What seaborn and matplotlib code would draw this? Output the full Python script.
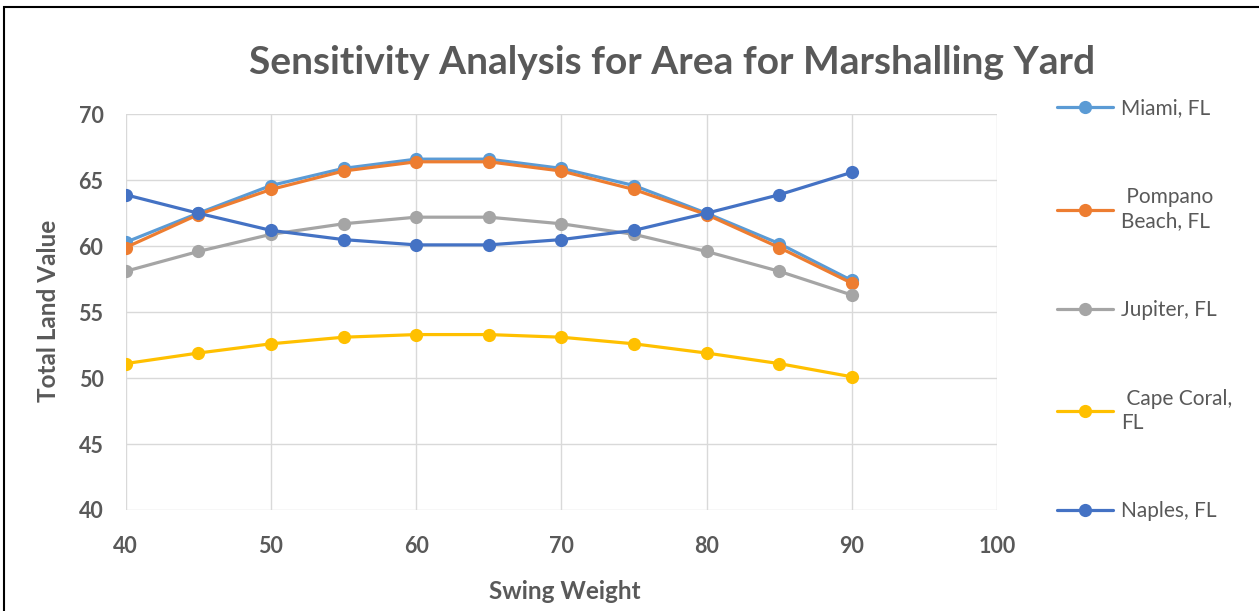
import numpy as np
import pandas as pd
import matplotlib.pyplot as plt
from matplotlib.patches import Rectangle
import seaborn as sns

sns.set_style("white")
plt.rcParams['font.family'] = ['Lato', 'DejaVu Sans']

# data
swing = [40, 45, 50, 55, 60, 65, 70, 75, 80, 85, 90]
miami = [60.3, 62.5, 64.6, 65.9, 66.6, 66.6, 65.9, 64.6, 62.5, 60.2, 57.4]
pompano = [59.9, 62.4, 64.3, 65.7, 66.4, 66.4, 65.7, 64.3, 62.4, 59.9, 57.2]
jupiter = [58.1, 59.6, 60.9, 61.7, 62.2, 62.2, 61.7, 60.9, 59.6, 58.1, 56.3]
cape_coral = [51.1, 51.9, 52.6, 53.1, 53.3, 53.3, 53.1, 52.6, 51.9, 51.1, 50.1]
naples = [63.9, 62.5, 61.2, 60.5, 60.1, 60.1, 60.5, 61.2, 62.5, 63.9, 65.6]

names = ['Miami, FL', ' Pompano\nBeach, FL', 'Jupiter, FL', ' Cape Coral,\nFL', 'Naples, FL']
colors = ['#5B9BD5', '#ED7D31', '#A5A5A5', '#FFC000', '#4472C4']
series = [miami, pompano, jupiter, cape_coral, naples]

txt = '#595959'

fig = plt.figure(figsize=(12.59, 6.11), dpi=100)
ax = fig.add_axes([125.7 / 1259, 1 - 510 / 611, (997 - 125.7) / 1259, (510 - 114.3) / 611])

for name, vals, c in zip(names, series, colors):
    sns.lineplot(x=swing, y=vals, ax=ax, color=c, marker='o', markersize=9.5,
                 markeredgewidth=0, linewidth=2.3, label=name)

ax.set_xlim(40, 100)
ax.set_ylim(40, 70)
ax.set_xticks(np.arange(40, 101, 10))
ax.set_yticks(np.arange(40, 71, 5))
ax.grid(True, color='#D9D9D9', linewidth=1)
for s in ax.spines.values():
    s.set_visible(False)
ax.tick_params(axis='both', length=0, labelsize=15.5, colors=txt)
ax.tick_params(axis='x', pad=19)
ax.tick_params(axis='y', pad=16)
for lab in ax.get_xticklabels() + ax.get_yticklabels():
    lab.set_fontweight('bold')

ax.set_xlabel('Swing Weight', fontsize=17.5, fontweight='bold', color=txt, va='center')
ax.set_ylabel('Total Land Value', fontsize=17.5, fontweight='bold', color=txt, va='center')
ax.xaxis.set_label_coords(0.504, -0.207)
ax.yaxis.set_label_coords(-0.089, 0.502)

fig.text(672 / 1259, 1 - 62 / 611, 'Sensitivity Analysis for Area for Marshalling Yard',
         ha='center', va='center', fontsize=28, fontweight='bold', color=txt)

leg = ax.legend(loc='upper left', bbox_to_anchor=(1049 / 1259, 1 - 90 / 611),
                bbox_transform=fig.transFigure, frameon=False, fontsize=15,
                labelspacing=3.3, handlelength=2.65, handletextpad=0.4,
                borderaxespad=0)
for t in leg.get_texts():
    t.set_color(txt)
    t.set_linespacing(1.25)

fig.add_artist(Rectangle((4 / 1259, -0.02), 1.1, 1 - 7 / 611 + 0.02,
                         transform=fig.transFigure, fill=False,
                         edgecolor='black', linewidth=1.5))

fig.savefig('out.png', dpi=100)
